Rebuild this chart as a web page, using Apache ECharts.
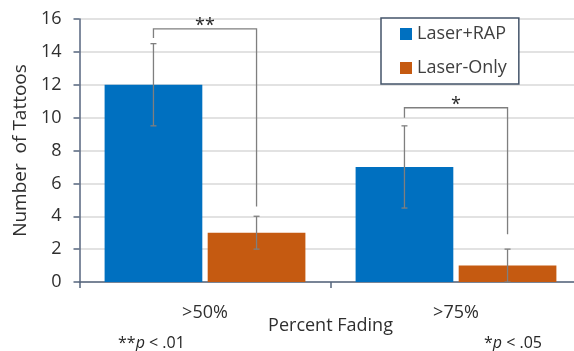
<!DOCTYPE html>
<html><head><meta charset="utf-8">
<script src="https://cdn.jsdelivr.net/npm/echarts@6/dist/echarts.min.js"></script>
<style>html,body{margin:0;padding:0;background:#fff}#c{width:574px;height:351px}</style>
</head><body><div id="c"></div>
<script>
// ---- data ----
const categories = ['>50%', '>75%'];
const seriesNames = ['Laser+RAP', 'Laser-Only'];
const laserRap = [12, 7];
const laserOnly = [3, 1];
const laserRapErr = [2.5, 2.5];
const laserOnlyErr = [1, 1];
const yMin = 0, yMax = 16, yStep = 2;
// significance brackets (per category): top height, left leg end, right leg end, label
const bracketTop = [15.4, 10.6];
const bracketLeftEnd = [14.85, 10.0];
const bracketRightEnd = [4.6, 2.9];
const bracketLabels = ['**', '*'];
const footnoteLeft = ['**', 'p', ' < .01'];
const footnoteRight = ['*', 'p', ' < .05'];

// ---- styling ----
const CAT_GAP = 0.20, BAR_GAP = 0.055;
const FONT = 'Open Sans';
const TXT = '#2f2f2f';
const AXIS = '#56657e';
const ERR = '#7f7f7f';

function barOffset(api, s) {
  const band = api.size([1, 0])[0];
  const bw = band * (1 - CAT_GAP) / (2 + BAR_GAP);
  return (s - 0.5) * bw * (1 + BAR_GAP);
}

const errData = [];
laserRap.forEach((v, i) => errData.push([i, v - laserRapErr[i], v + laserRapErr[i], 0]));
laserOnly.forEach((v, i) => errData.push([i, v - laserOnlyErr[i], v + laserOnlyErr[i], 1]));

const brData = bracketTop.map((t, i) => [i, t, bracketLeftEnd[i], bracketRightEnd[i]]);

const chart = echarts.init(document.getElementById('c'), null, {renderer: 'canvas'});
chart.setOption({
  animation: false,
  textStyle: {fontFamily: FONT},
  grid: {left: 79.5, width: 502, top: 19, height: 263, containLabel: false, outerBoundsMode: 'none'},
  legend: {
    data: seriesNames,
    orient: 'vertical',
    left: 381, top: 18,
    backgroundColor: '#fff',
    borderColor: '#44546a', borderWidth: 1.5,
    padding: [6, 12, 6, 19],
    itemWidth: 12, itemHeight: 12, itemGap: 14,
    icon: 'rect',
    textStyle: {fontFamily: FONT, fontSize: 18, color: '#404040', lineHeight: 20}
  },
  xAxis: {
    type: 'category', data: categories,
    axisLine: {lineStyle: {color: AXIS, width: 1.5}},
    axisTick: {show: true, length: 6, lineStyle: {color: AXIS, width: 1.5}},
    axisLabel: {fontFamily: FONT, fontSize: 18, color: TXT, margin: 22},
    name: 'Percent Fading', nameLocation: 'middle', nameGap: 35, nameMoveOverlap: false,
    nameTextStyle: {fontFamily: FONT, fontSize: 18, color: TXT}
  },
  yAxis: {
    type: 'value', min: yMin, max: yMax, interval: yStep,
    axisLine: {show: true, lineStyle: {color: AXIS, width: 1.5}},
    axisTick: {show: true, length: 6, lineStyle: {color: AXIS, width: 1.5}},
    splitLine: {lineStyle: {color: '#d9d9d9', width: 1.5}},
    axisLabel: {fontFamily: FONT, fontSize: 18, color: TXT, margin: 18},
    name: 'Number  of Tattoos', nameLocation: 'middle', nameGap: 49, nameMoveOverlap: false,
    nameTextStyle: {fontFamily: FONT, fontSize: 19, color: TXT}
  },
  series: [
    {name: seriesNames[0], type: 'bar', data: laserRap, barCategoryGap: '20%', barGap: '5.5%',
     itemStyle: {color: '#0070c0'}, z: 2},
    {name: seriesNames[1], type: 'bar', data: laserOnly, barCategoryGap: '20%', barGap: '5.5%',
     itemStyle: {color: '#c55a11'}, z: 2},
    {type: 'custom', data: errData, z: 5, silent: true,
     renderItem: function (params, api) {
       const c = api.value(0), s = api.value(3);
       const off = barOffset(api, s);
       const lo = api.coord([c, api.value(1)]);
       const hi = api.coord([c, api.value(2)]);
       const x = lo[0] + off;
       const style = {stroke: ERR, lineWidth: 1.3};
       return {type: 'group', children: [
         {type: 'line', shape: {x1: x, y1: lo[1], x2: x, y2: hi[1]}, style},
         {type: 'line', shape: {x1: x - 3, y1: lo[1], x2: x + 3, y2: lo[1]}, style},
         {type: 'line', shape: {x1: x - 3, y1: hi[1], x2: x + 3, y2: hi[1]}, style}
       ]};
     }},
    {type: 'custom', data: brData, z: 5, silent: true,
     renderItem: function (params, api) {
       const c = api.value(0);
       const xl = api.coord([c, 0])[0] + barOffset(api, 0);
       const xr = api.coord([c, 0])[0] + barOffset(api, 1);
       const yt = api.coord([c, api.value(1)])[1];
       const yl = api.coord([c, api.value(2)])[1];
       const yr = api.coord([c, api.value(3)])[1];
       return {type: 'group', children: [
         {type: 'polyline', shape: {points: [[xl, yl], [xl, yt], [xr, yt], [xr, yr]]},
          style: {stroke: ERR, lineWidth: 1.3, fill: null}},
         {type: 'text', x: (xl + xr) / 2, y: yt - 3,
          style: {text: bracketLabels[params.dataIndex], fontFamily: FONT, fontSize: 18,
                  fill: '#262626', align: 'center', verticalAlign: 'middle'}}
       ]};
     }}
  ],
  graphic: [
    {type: 'text', left: 118, top: 335,
     style: {text: '{n|' + footnoteLeft[0] + '}{i|' + footnoteLeft[1] + '}{n|' + footnoteLeft[2] + '}',
       rich: {n: {fontFamily: FONT, fontSize: 16, fill: '#262626'},
              i: {fontFamily: FONT, fontSize: 16, fontStyle: 'italic', fill: '#262626'}}}},
    {type: 'text', left: 484, top: 335,
     style: {text: '{n|' + footnoteRight[0] + '}{i|' + footnoteRight[1] + '}{n|' + footnoteRight[2] + '}',
       rich: {n: {fontFamily: FONT, fontSize: 16, fill: '#262626'},
              i: {fontFamily: FONT, fontSize: 16, fontStyle: 'italic', fill: '#262626'}}}}
  ]
});
</script></body></html>
